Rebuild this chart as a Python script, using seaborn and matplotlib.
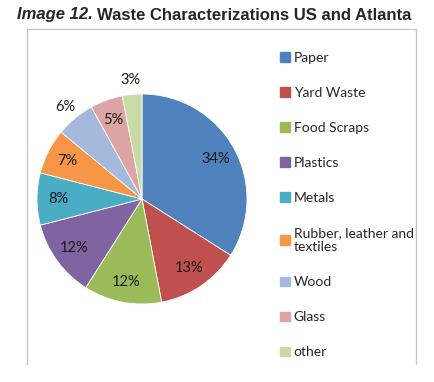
import matplotlib
matplotlib.use("Agg")
import numpy as np
import matplotlib.pyplot as plt
from matplotlib.lines import Line2D
import seaborn as sns

categories = ["Paper", "Yard Waste", "Food Scraps", "Plastics", "Metals",
              "Rubber, leather and\ntextiles", "Wood", "Glass", "other"]
shares = [34, 13, 12, 12, 8, 7, 6, 5, 3]
colors = ["#4F81BD", "#C0504D", "#9BBB59", "#8064A2", "#4BACC6",
          "#F79646", "#A5B9DD", "#DCA5A4", "#C9DAA8"]
outside = ["Wood", "other"]   # labels Excel pushed outside the pie

sns.set_theme(style="white")
plt.rcParams["font.family"] = ["Lato", "DejaVu Sans"]

W, H = 435, 382
fig = plt.figure(figsize=(W / 100, H / 100), dpi=100)

# pie: centre (142, 199) px, radius 105 px
cx, cy, r = 142, 199, 105
ax = fig.add_axes([(cx - r) / W, (H - cy - r) / H, 2 * r / W, 2 * r / H])
wedges, texts, autotexts = ax.pie(
    shares, colors=colors, startangle=90, counterclock=False,
    autopct="%d%%", pctdistance=0.8,
    wedgeprops=dict(edgecolor="white", linewidth=0.6),
    textprops=dict(fontsize=10.5, color="#1a1a1a"))
for w, t, name in zip(wedges, autotexts, categories):
    if name in outside:
        ang = np.deg2rad((w.theta1 + w.theta2) / 2)
        t.set_position((1.14 * np.cos(ang), 1.14 * np.sin(ang)))
ax.set_xlim(-1, 1)
ax.set_ylim(-1, 1)
ax.set_aspect("equal")
ax.axis("off")

# legend
handles = [plt.Rectangle((0, 0), 1, 1, color=c) for c in colors]
fig.legend(handles, categories, loc="upper left",
           bbox_to_anchor=(273 / W, 1 - 45 / H), frameon=False,
           fontsize=10, handlelength=0.7, handleheight=0.7,
           handletextpad=0.3, labelspacing=1.66, borderpad=0)

# title: bold italic prefix + bold text
renderer = fig.canvas.get_renderer()
t1 = fig.text(17 / W, 1 - 15 / H, "Image 12.", fontsize=12, fontweight="bold",
              style="italic", family="Liberation Sans", va="center")
x1 = t1.get_window_extent(renderer).x1
fig.text((x1 + 4) / W, 1 - 15 / H, "Waste Characterizations US and Atlanta",
         fontsize=12, fontweight="bold", family="Liberation Sans", va="center")

# light grey chart frame (no bottom edge visible)
fc = "#c8c8c8"
for xs, ys in [([27, 416], [29, 29]), ([27, 27], [29, 364]), ([416, 416], [29, 364])]:
    fig.add_artist(Line2D([x / W for x in xs], [1 - y / H for y in ys],
                          color=fc, linewidth=1.0, transform=fig.transFigure))

fig.savefig("out.png", dpi=100)
